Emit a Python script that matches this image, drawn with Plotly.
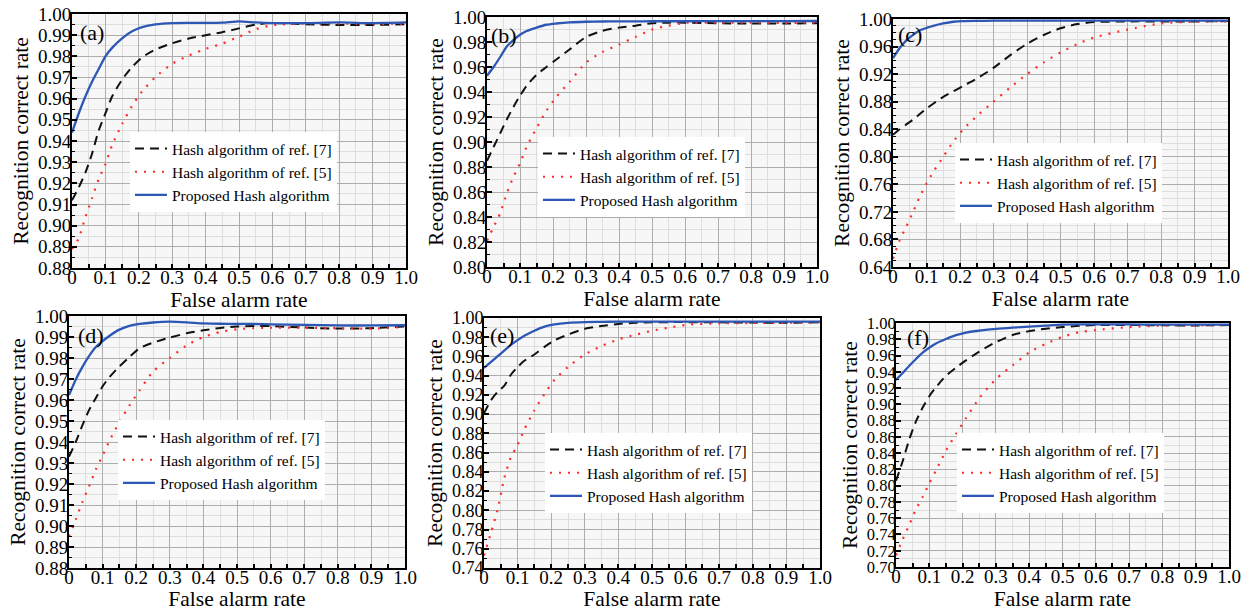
import plotly.graph_objects as go

# ---------------- data ----------------
FAR = [0, 0.02, 0.04, 0.06, 0.08, 0.10, 0.12, 0.15, 0.18, 0.21, 0.25,
       0.30, 0.35, 0.40, 0.45, 0.50, 0.55, 0.60, 0.70, 0.80, 0.90, 1.00]

A_REF7 = [0.912, 0.918, 0.925, 0.934, 0.945, 0.953, 0.961, 0.969, 0.975, 0.9795, 0.9832,
          0.9862, 0.9884, 0.9900, 0.9914, 0.9932, 0.9950, 0.9958, 0.9952, 0.9948, 0.9948, 0.9952]
A_REF5 = [0.889, 0.894, 0.904, 0.913, 0.922, 0.929, 0.938, 0.948, 0.9566, 0.9635, 0.9702,
          0.9765, 0.9804, 0.9835, 0.9860, 0.9893, 0.9928, 0.9947, 0.9955, 0.9955, 0.9953, 0.9955]
A_PROP = [0.944, 0.953, 0.961, 0.968, 0.974, 0.980, 0.984, 0.9885, 0.9918, 0.9938, 0.9951,
          0.9957, 0.9958, 0.9958, 0.9959, 0.9965, 0.9960, 0.9957, 0.9957, 0.9960, 0.9957, 0.9960]

B_REF7 = [0.885, 0.896, 0.907, 0.918, 0.928, 0.937, 0.945, 0.9537, 0.960, 0.966, 0.974,
          0.984, 0.989, 0.9915, 0.993, 0.995, 0.9955, 0.9955, 0.9950, 0.9948, 0.9948, 0.9950]
B_REF5 = [0.821, 0.832, 0.843, 0.859, 0.872, 0.883, 0.896, 0.911, 0.925, 0.936, 0.948,
          0.9635, 0.972, 0.978, 0.984, 0.990, 0.993, 0.9953, 0.9955, 0.9955, 0.9953, 0.9955]
B_PROP = [0.953, 0.960, 0.968, 0.9764, 0.9815, 0.9858, 0.9888, 0.9915, 0.9938, 0.9948, 0.9957,
          0.9962, 0.9964, 0.9965, 0.9965, 0.9966, 0.9966, 0.9966, 0.9967, 0.9967, 0.9967, 0.9968]

C_REF7 = [0.832, 0.840, 0.847, 0.854, 0.862, 0.870, 0.877, 0.887, 0.895, 0.903, 0.9136,
          0.929, 0.9475, 0.964, 0.9768, 0.9865, 0.9926, 0.9955, 0.9965, 0.9965, 0.9965, 0.997]
C_REF5 = [0.652, 0.679, 0.699, 0.720, 0.742, 0.761, 0.778, 0.800, 0.822, 0.840, 0.859,
          0.880, 0.9005, 0.920, 0.937, 0.9515, 0.9635, 0.973, 0.9846, 0.9935, 0.996, 0.9965]
C_PROP = [0.943, 0.958, 0.969, 0.977, 0.9835, 0.987, 0.990, 0.9935, 0.996, 0.997, 0.9973,
          0.9975, 0.9975, 0.9975, 0.9975, 0.9975, 0.9975, 0.9975, 0.9975, 0.9975, 0.9975, 0.9975]

D_REF7 = [0.933, 0.940, 0.948, 0.9553, 0.961, 0.9665, 0.9708, 0.976, 0.9805, 0.9846, 0.9873,
          0.9897, 0.9918, 0.9932, 0.9943, 0.995, 0.9952, 0.9952, 0.9945, 0.9940, 0.9942, 0.9950]
D_REF5 = [0.895, 0.903, 0.9115, 0.919, 0.927, 0.9335, 0.9405, 0.9495, 0.9574, 0.9646, 0.9735,
          0.980, 0.9860, 0.990, 0.9924, 0.9937, 0.9942, 0.9944, 0.9944, 0.9942, 0.9940, 0.9948]
D_PROP = [0.9624, 0.9697, 0.9758, 0.981, 0.9852, 0.988, 0.9905, 0.9935, 0.9953, 0.9962, 0.9969,
          0.9973, 0.9970, 0.9965, 0.9963, 0.9962, 0.9962, 0.9960, 0.9958, 0.9955, 0.9955, 0.9956]

E_REF7 = [0.901, 0.914, 0.923, 0.9295, 0.941, 0.949, 0.9555, 0.962, 0.970, 0.9768, 0.9828,
          0.9888, 0.9917, 0.9938, 0.995, 0.9955, 0.9957, 0.9957, 0.9955, 0.9952, 0.995, 0.9955]
E_REF5 = [0.753, 0.776, 0.800, 0.833, 0.855, 0.868, 0.884, 0.904, 0.921, 0.9358, 0.949,
          0.962, 0.971, 0.9777, 0.9825, 0.9867, 0.990, 0.9928, 0.9945, 0.9948, 0.995, 0.9955]
E_PROP = [0.948, 0.954, 0.960, 0.966, 0.972, 0.977, 0.9815, 0.9868, 0.991, 0.9934, 0.995,
          0.9958, 0.996, 0.9962, 0.9962, 0.9962, 0.9962, 0.9962, 0.9962, 0.9962, 0.9962, 0.9962]

F_REF7 = [0.806, 0.830, 0.857, 0.879, 0.896, 0.910, 0.921, 0.935, 0.945, 0.954, 0.9648,
          0.9765, 0.9852, 0.990, 0.993, 0.995, 0.9965, 0.9975, 0.9975, 0.9972, 0.997, 0.9975]
F_REF5 = [0.7145, 0.734, 0.752, 0.771, 0.786, 0.803, 0.8185, 0.843, 0.8635, 0.8828, 0.9075,
          0.931, 0.9478, 0.9637, 0.9745, 0.983, 0.9887, 0.9913, 0.995, 0.9968, 0.997, 0.9975]
F_PROP = [0.930, 0.9385, 0.9475, 0.9558, 0.9635, 0.9695, 0.9748, 0.9803, 0.985, 0.9882, 0.9905,
          0.9927, 0.9943, 0.9956, 0.9968, 0.998, 0.9982, 0.9982, 0.9982, 0.998, 0.998, 0.998]

PANEL_LABELS = ["(a)", "(b)", "(c)", "(d)", "(e)", "(f)"]
SERIES_NAMES = ["Hash algorithm of ref. [7]", "Hash algorithm of ref. [5]", "Proposed Hash algorithm"]
X_TICKVALS = [0, 0.1, 0.2, 0.3, 0.4, 0.5, 0.6, 0.7, 0.8, 0.9, 1.0]
X_TICKTEXT = ["0", "0.1", "0.2", "0.3", "0.4", "0.5", "0.6", "0.7", "0.8", "0.9", "1.0"]
Y_MIN = [0.88, 0.80, 0.64, 0.88, 0.74, 0.70]
Y_STEP = [0.01, 0.02, 0.04, 0.01, 0.02, 0.02]
Y_MINOR = [0.005, 0.01, 0.01, 0.005, 0.01, 0.01]
X_TITLE = "False alarm rate"
Y_TITLE = "Recognition correct rate"

PANEL_DATA = [
    (A_REF7, A_REF5, A_PROP),
    (B_REF7, B_REF5, B_PROP),
    (C_REF7, C_REF5, C_PROP),
    (D_REF7, D_REF5, D_PROP),
    (E_REF7, E_REF5, E_PROP),
    (F_REF7, F_REF5, F_PROP),
]

# ---------------- layout geometry (pixels) ----------------
W, H = 1242, 611
BOXES = [  # x0, x1, y0(top), y1(bottom)
    (72, 406, 14, 268),
    (487, 817, 17, 267),
    (893, 1228, 19, 267),
    (69, 405, 316, 568),
    (484, 820, 318, 568),
    (896, 1229, 323, 567),
]
Y_TICK_SIZE = [19, 19, 19, 19, 18, 16.5]
LEGEND_POS = [(130, 132), (538, 137), (955, 143), (118, 420), (545, 433), (957, 433)]
LABEL_POS = [(78, 33), (489, 35), (896, 34), (76, 335), (488, 335), (905, 337)]

FONT = "Liberation Serif"
STYLES = [
    dict(color="#111111", width=2.0, dash="9px,6px"),
    dict(color="#ff2b2b", width=2.2, dash="2px,7px"),
    dict(color="#2d57b4", width=2.3),
]

fig = go.Figure()
layout = dict(
    width=W, height=H, margin=dict(l=0, r=0, t=0, b=0),
    paper_bgcolor="white", plot_bgcolor="#f7f7f7",
    font=dict(family=FONT, size=18, color="black"),
    annotations=[],
)

for i, (box, series) in enumerate(zip(BOXES, PANEL_DATA)):
    n = i + 1
    sfx = "" if n == 1 else str(n)
    x0, x1, yt, yb = box
    leg = "legend" if n == 1 else f"legend{n}"
    for s_i, (vals, name) in enumerate(zip(series, SERIES_NAMES)):
        fig.add_trace(go.Scatter(
            x=FAR, y=vals, mode="lines", name=name,
            line=dict(shape="spline", smoothing=0.7, **STYLES[s_i]),
            xaxis=f"x{sfx}", yaxis=f"y{sfx}", legend=leg,
        ))
    ymin = Y_MIN[i]
    layout[f"xaxis{sfx}"] = dict(
        domain=[x0 / W, x1 / W], anchor=f"y{sfx}", range=[0, 1.0],
        tickmode="array", tickvals=X_TICKVALS, ticktext=X_TICKTEXT,
        ticks="inside", ticklen=4, tickwidth=1.5, tickcolor="black",
        tickfont=dict(family=FONT, size=19), ticklabelstandoff=-9,
        showline=True, linewidth=2, linecolor="black", mirror=True,
        showgrid=True, gridcolor="#adadad", gridwidth=1, zeroline=False,
        minor=dict(dtick=0.05, ticks="inside", ticklen=4, tickwidth=1.5, tickcolor="black",
                   showgrid=True, gridcolor="#dedede", gridwidth=1),
        title=dict(text=X_TITLE, font=dict(family=FONT, size=21.5), standoff=3),
        automargin=False,
    )
    layout[f"yaxis{sfx}"] = dict(
        domain=[1 - yb / H, 1 - yt / H], anchor=f"x{sfx}", range=[ymin, 1.0],
        tick0=ymin, dtick=Y_STEP[i], tickformat=".2f",
        ticks="inside", ticklen=5, tickwidth=1.5, tickcolor="black",
        tickfont=dict(family=FONT, size=Y_TICK_SIZE[i]), ticklabelstandoff=-5,
        showline=True, linewidth=2, linecolor="black", mirror=True,
        showgrid=True, gridcolor="#adadad", gridwidth=1, zeroline=False,
        minor=dict(dtick=Y_MINOR[i], ticks="inside", ticklen=3, tickwidth=1.2, tickcolor="black",
                   showgrid=True, gridcolor="#dedede", gridwidth=1),
        title=dict(text=Y_TITLE, font=dict(family=FONT, size=21.5), standoff=3),
        automargin=False,
    )
    lx, ly = LEGEND_POS[i]
    layout[leg] = dict(
        x=lx / W, y=1 - ly / H, xanchor="left", yanchor="top",
        bgcolor="white", borderwidth=0, tracegroupgap=0,
        font=dict(family=FONT, size=15.5), itemwidth=32,
    )
    ax, ay = LABEL_POS[i]
    layout["annotations"].append(dict(
        text=PANEL_LABELS[i], xref="paper", yref="paper", x=ax / W, y=1 - ay / H,
        xanchor="left", yanchor="middle", showarrow=False,
        font=dict(family=FONT, size=22, color="black"),
    ))

fig.update_layout(**layout)
fig.write_html(
    "out.html",
    config={"displayModeBar": False},
    post_script="document.body.style.margin='0';document.body.style.overflow='hidden';",
)
